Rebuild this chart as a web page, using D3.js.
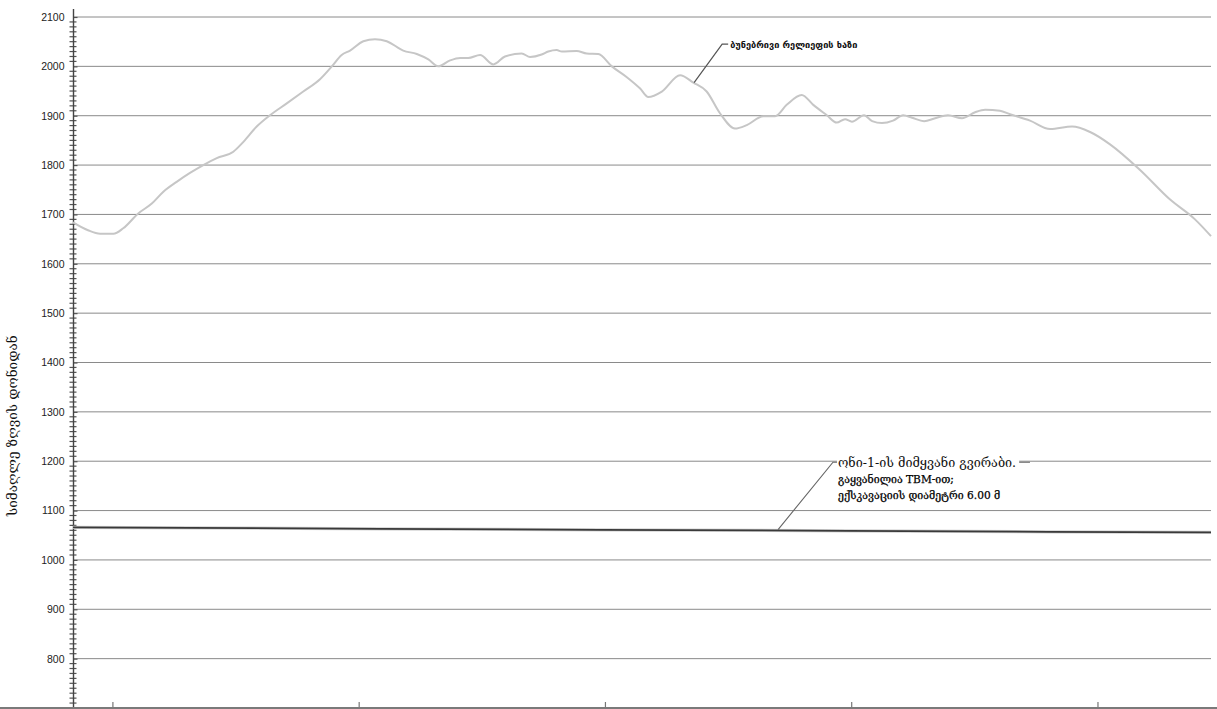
<!DOCTYPE html>
<html>
<head>
<meta charset="utf-8">
<script src="https://cdn.jsdelivr.net/npm/d3@7"></script>
<style>
  html, body { margin: 0; padding: 0; background: #fff; }
  svg { display: block; }
</style>
</head>
<body>
<svg id="chart" width="1217" height="709"></svg>
<script>
// Chainage along the route (m) and elevation (m a.s.l.) of the natural ground surface
const terrainChainage = [840, 901, 950, 1004, 1044, 1105, 1160, 1207, 1261, 1315, 1369, 1424, 1491, 1532, 1586, 1640,
  1708, 1775, 1843, 1891, 1931, 1965, 2019, 2066, 2114, 2181, 2236, 2283, 2323, 2371, 2412, 2445, 2493, 2547, 2594,
  2662, 2696, 2743, 2770, 2804, 2825, 2885, 2926, 2973, 3028, 3089, 3143, 3176, 3231, 3305, 3359, 3413, 3467, 3528,
  3576, 3643, 3691, 3738, 3799, 3846, 3901, 3941, 3975, 4003, 4052, 4085, 4125, 4170, 4211, 4247, 4296, 4341, 4393,
  4450, 4503, 4544, 4604, 4645, 4726, 4808, 4897, 4970, 5051, 5173, 5295, 5396, 5461];
const terrainElevation = [1684, 1668, 1661, 1661, 1672, 1702, 1722, 1746, 1766, 1784, 1800, 1814, 1827, 1847, 1878, 1901,
  1925, 1949, 1974, 2000, 2023, 2032, 2051, 2055, 2051, 2032, 2025, 2014, 2000, 2012, 2017, 2017, 2023, 2004, 2020,
  2026, 2019, 2024, 2030, 2033, 2030, 2031, 2026, 2025, 2000, 1978, 1955, 1938, 1949, 1982, 1967, 1949, 1905, 1874,
  1881, 1899, 1899, 1922, 1942, 1922, 1901, 1886, 1893, 1888, 1901, 1889, 1885, 1890, 1901, 1896, 1889, 1895, 1901,
  1895, 1907, 1912, 1910, 1903, 1890, 1873, 1878, 1867, 1842, 1790, 1730, 1690, 1656];

// Tunnel axis level
const tunnelChainage = [840, 1315, 2090, 2980, 3990, 4800, 5461];
const tunnelElevation = [1066, 1065, 1063, 1061, 1059, 1057, 1056];

// Axes
const yTicks = [800, 900, 1000, 1100, 1200, 1300, 1400, 1500, 1600, 1700, 1800, 1900, 2000, 2100];
const xTicks = [1000, 2000, 3000, 4000, 5000];

// Texts
const yTitle = "სიმაღლე ზღვის დონიდან";
const terrainLabel = "ბუნებრივი რელიეფის ხაზი";
const tunnelLabel = ["ონი-1-ის მიმყვანი გვირაბი.", "გაყვანილია TBM-ით;", "ექსკავაციის დიამეტრი 6.00 მ"];

const svg = d3.select("#chart");
const x = d3.scaleLinear().domain([840, 5461]).range([73, 1211]);
const y = d3.scaleLinear().domain([700, 2100]).range([708, 17]);

// horizontal grid
svg.append("g")
  .selectAll("line")
  .data(yTicks)
  .join("line")
  .attr("x1", x(840)).attr("x2", x(5461))
  .attr("y1", d => y(d)).attr("y2", d => y(d))
  .attr("stroke", "#8a8a8a").attr("stroke-width", 1);

// minor ticks every 10 m, crossing the axis
const minor = d3.range(710, 2110, 10).filter(v => v % 100 !== 0);
svg.append("g")
  .selectAll("line")
  .data(minor)
  .join("line")
  .attr("x1", 69.5).attr("x2", 76.5)
  .attr("y1", d => y(d)).attr("y2", d => y(d))
  .attr("stroke", "#555").attr("stroke-width", 1.2);

// y axis with major ticks and labels
const yAxis = d3.axisLeft(y).tickValues(yTicks).tickSize(6).tickPadding(3).tickFormat(d3.format("d"));
const gy = svg.append("g").attr("transform", "translate(73.5,0)").call(yAxis);
gy.select(".domain").remove();
gy.selectAll(".tick line").attr("x2", 4).attr("stroke", "#555").attr("stroke-width", 1.2);
gy.selectAll(".tick text")
  .attr("font-family", "'Liberation Sans', Arial, sans-serif")
  .attr("font-size", 10.5).attr("fill", "#222");
svg.append("line")
  .attr("x1", 73.5).attr("x2", 73.5)
  .attr("y1", y(2116)).attr("y2", y(700))
  .attr("stroke", "#444").attr("stroke-width", 1.4);

// x axis along the bottom, ticks pointing up
const xAxis = d3.axisBottom(x).tickValues(xTicks).tickSize(-6).tickFormat("");
const gx = svg.append("g").attr("transform", `translate(0,${y(700)})`).call(xAxis);
gx.select(".domain").remove();
gx.selectAll(".tick line").attr("stroke", "#777").attr("stroke-width", 1.2);
svg.append("line")
  .attr("x1", 0).attr("x2", 1217)
  .attr("y1", y(700)).attr("y2", y(700))
  .attr("stroke", "#7a7a7a").attr("stroke-width", 2);

// ground surface
const terrain = terrainChainage.map((c, i) => [c, terrainElevation[i]]);
svg.append("path")
  .datum(terrain)
  .attr("fill", "none")
  .attr("stroke", "#c6c6c6")
  .attr("stroke-width", 2)
  .attr("d", d3.line().x(d => x(d[0])).y(d => y(d[1])).curve(d3.curveMonotoneX));

// tunnel
const tunnel = tunnelChainage.map((c, i) => [c, tunnelElevation[i]]);
svg.append("path")
  .datum(tunnel)
  .attr("fill", "none")
  .attr("stroke", "#cfcfcf")
  .attr("stroke-width", 3.2)
  .attr("d", d3.line().x(d => x(d[0])).y(d => y(d[1])));
svg.append("path")
  .datum(tunnel)
  .attr("fill", "none")
  .attr("stroke", "#3a3a3a")
  .attr("stroke-width", 1.8)
  .attr("d", d3.line().x(d => x(d[0])).y(d => y(d[1])));

// callout: ground surface
const c1 = { from: [3362, 1967], to: [3476, 2045] };
svg.append("polyline")
  .attr("points", [[x(c1.from[0]), y(c1.from[1])], [x(c1.to[0]), y(c1.to[1])], [x(c1.to[0]) + 6, y(c1.to[1])]].join(" "))
  .attr("fill", "none").attr("stroke", "#555").attr("stroke-width", 1.2);
svg.append("text")
  .attr("x", x(c1.to[0]) + 8).attr("y", y(c1.to[1]) + 3.5)
  .attr("font-family", "'DejaVu Sans', sans-serif")
  .attr("font-size", 9.2).attr("font-weight", "bold").attr("fill", "#111")
  .text(terrainLabel);

// callout: tunnel
const c2 = { from: [3703, 1061.5], to: [3926, 1198] };
const lx = x(c2.to[0]), ly = y(c2.to[1]);
svg.append("polyline")
  .attr("points", [[x(c2.from[0]), y(c2.from[1])], [lx, ly], [lx + 197, ly]].join(" "))
  .attr("fill", "none").attr("stroke", "#666").attr("stroke-width", 1.1);
const labelG = svg.append("g");
const mask = labelG.append("rect").attr("fill", "#fff");
const t1 = labelG.append("text")
  .attr("x", lx + 5).attr("y", ly + 5)
  .attr("font-family", "'DejaVu Serif', serif")
  .attr("font-size", 12.6).attr("fill", "#111")
  .text(tunnelLabel[0]);
const bb = t1.node().getBBox();
mask.attr("x", bb.x - 1).attr("y", bb.y)
  .attr("width", bb.width + 4).attr("height", bb.height);
labelG.append("text")
  .attr("x", lx + 5).attr("y", ly + 21)
  .attr("font-family", "'DejaVu Serif', serif")
  .attr("font-size", 10.6).attr("fill", "#000")
  .attr("stroke", "#000").attr("stroke-width", 0.25)
  .text(tunnelLabel[1]);
labelG.append("text")
  .attr("x", lx + 5).attr("y", ly + 37)
  .attr("font-family", "'DejaVu Serif', serif")
  .attr("font-size", 10.6).attr("fill", "#000")
  .attr("stroke", "#000").attr("stroke-width", 0.25)
  .text(tunnelLabel[2]);

// y axis title
svg.append("text")
  .attr("transform", `translate(17,${y(1272)}) rotate(-90)`)
  .attr("text-anchor", "middle")
  .attr("font-family", "'DejaVu Serif', serif")
  .attr("font-size", 13.5).attr("fill", "#111")
  .text(yTitle);
</script>
</body>
</html>
